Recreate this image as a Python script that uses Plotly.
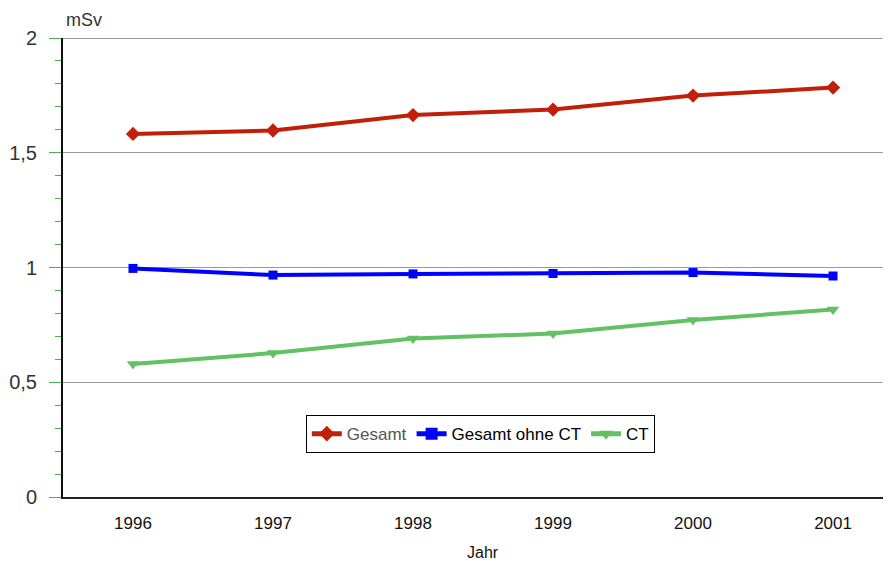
import plotly.graph_objects as go

years = ["1996", "1997", "1998", "1999", "2000", "2001"]
gesamt = [1.582, 1.597, 1.664, 1.688, 1.749, 1.784]
gesamt_ohne_ct = [0.996, 0.967, 0.972, 0.974, 0.978, 0.963]
ct = [0.580, 0.627, 0.691, 0.712, 0.771, 0.817]
y_ticks = [0, 0.5, 1, 1.5, 2]
y_ticklabels = ["0", "0,5", "1", "1,5", "2"]

FONT = "Liberation Sans, Arial, sans-serif"
xidx = list(range(len(years)))

fig = go.Figure()
fig.add_trace(go.Scatter(x=xidx, y=gesamt, name="<span style='color:#555555'>Gesamt</span>",
                         mode="lines+markers",
                         line=dict(color="#c0200a", width=4),
                         marker=dict(symbol="diamond", size=11, color="#c0200a")))
fig.add_trace(go.Scatter(x=xidx, y=gesamt_ohne_ct, name="Gesamt ohne CT", mode="lines+markers",
                         line=dict(color="#0000ff", width=4),
                         marker=dict(symbol="square", size=9, color="#0000ff")))
fig.add_trace(go.Scatter(x=xidx, y=ct, name="CT", mode="lines+markers",
                         line=dict(color="#63c063", width=4),
                         marker=dict(symbol="triangle-down", size=11, color="#63c063")))

# page body has an 8px default margin; margins compensate so the plot area
# lands at x 63..891, y 38..497 in the window
fig.update_layout(
    width=891, height=561,
    margin=dict(l=55, r=8, t=30, b=72),
    plot_bgcolor="white", paper_bgcolor="white",
    font=dict(family=FONT, size=17, color="#333333"),
    showlegend=True,
    legend=dict(orientation="h", x=0.504, y=0.137, xanchor="center", yanchor="middle",
                bordercolor="black", borderwidth=1, bgcolor="white",
                font=dict(family=FONT, size=17, color="black"),
                itemwidth=30, tracegroupgap=0, itemsizing="constant"),
    xaxis=dict(tickmode="array", tickvals=xidx, ticktext=years,
               range=[-0.5, 5.414], showgrid=False, ticks="",
               showline=True, linecolor="#222222", linewidth=2,
               ticklabelstandoff=10, automargin=False,
               tickfont=dict(size=17, color="#111111"), zeroline=False),
    yaxis=dict(range=[0, 2], tickmode="array", tickvals=y_ticks, ticktext=y_ticklabels,
               showgrid=True, gridcolor="#999999", gridwidth=1,
               showline=True, linecolor="#111111", linewidth=2,
               ticks="outside", ticklen=12, tickcolor="#4caf50", tickwidth=1,
               ticklabelstandoff=8, automargin=False,
               minor=dict(dtick=0.1, ticks="outside", ticklen=6, tickcolor="#4caf50",
                          showgrid=False),
               tickfont=dict(size=20, color="#333333"), zeroline=False),
    shapes=[dict(type="line", xref="paper", yref="y", x0=0, x1=1, y0=2, y1=2,
                 line=dict(color="#777777", width=1.5))],
    annotations=[
        dict(text="mSv", xref="paper", yref="paper", x=0, y=1, xshift=1, yshift=6,
             xanchor="left", yanchor="bottom", showarrow=False,
             font=dict(size=18, color="#333333")),
        dict(text="Jahr", xref="paper", yref="paper", x=0.5, y=0, xshift=6, yshift=-55,
             xanchor="center", yanchor="middle", showarrow=False,
             font=dict(size=16, color="#111111")),
    ],
)

fig.write_html("out.html")
